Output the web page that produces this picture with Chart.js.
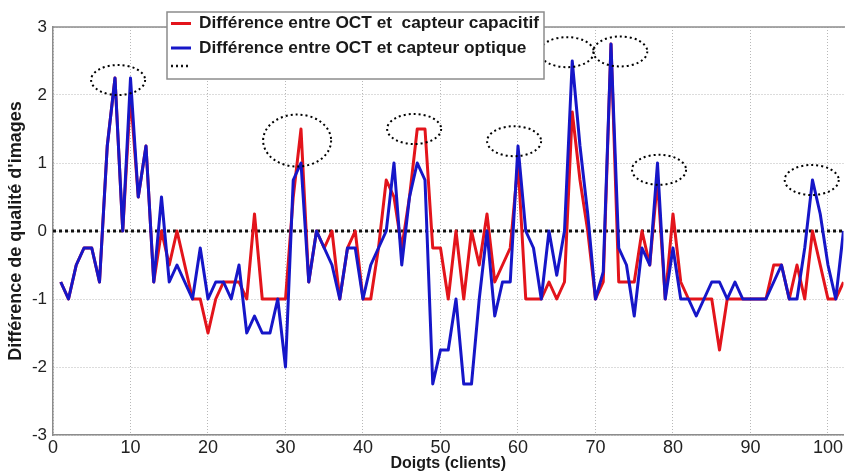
<!DOCTYPE html>
<html>
<head>
<meta charset="utf-8">
<script src="https://cdn.jsdelivr.net/npm/chart.js@4.4.0/dist/chart.umd.min.js"></script>
<style>
  html, body { margin: 0; padding: 0; background: #fff; }
  #wrap { width: 845px; height: 474px; }
</style>
</head>
<body>
<div id="wrap"><canvas id="diffChart"></canvas></div>
<script>
// --- DATA ---
const fingers = [];
for (let i = 1; i <= 102; i++) fingers.push(i);

const diffCapacitive = [
  -0.75, -1, -0.5, -0.25, -0.25, -0.75, 1.25, 2.25, 0, 2,
  0.5, 1.25, -0.75, 0, -0.5, 0, -0.5, -1, -1, -1.5,
  -1, -0.75, -0.75, -0.75, -1, 0.25, -1, -1, -1, -1,
  0.5, 1.5, -0.75, 0, -0.25, 0, -1, -0.25, 0, -1,
  -1, -0.25, 0.75, 0.5, -0.25, 0.5, 1.5, 1.5, -0.25, -0.25,
  -1, 0, -1, 0, -0.5, 0.25, -0.75, -0.5, -0.25, 1,
  -1, -1, -1, -0.75, -1, -0.75, 1.75, 0.75, 0, -1,
  -0.75, 2.75, -0.75, -0.75, -0.75, 0, -0.5, 0.75, -1, 0.25,
  -0.75, -1, -1, -1, -1, -1.75, -1, -1, -1, -1,
  -1, -1, -0.5, -0.5, -1, -0.5, -1, 0, -0.5, -1,
  -1, -0.75
];

const diffOptical = [
  -0.75, -1, -0.5, -0.25, -0.25, -0.75, 1.25, 2.25, 0, 2.25,
  0.5, 1.25, -0.75, 0.5, -0.75, -0.5, -0.75, -1, -0.25, -1,
  -0.75, -0.75, -1, -0.5, -1.5, -1.25, -1.5, -1.5, -1, -2,
  0.75, 1, -0.75, 0, -0.25, -0.5, -1, -0.25, -0.25, -1,
  -0.5, -0.25, 0, 1, -0.5, 0.5, 1, 0.75, -2.25, -1.75,
  -1.75, -1, -2.25, -2.25, -1, 0, -1.25, -0.75, -0.75, 1.25,
  0, -0.25, -1, 0, -0.65, 0, 2.5, 1.25, 0.25, -1,
  -0.6, 2.75, -0.25, -0.5, -1.25, -0.25, -0.5, 1, -1, -0.25,
  -1, -1, -1.25, -1, -0.75, -0.75, -1, -0.75, -1, -1,
  -1, -1, -0.75, -0.5, -1, -1, -0.25, 0.75, 0.25, -0.5,
  -1, 0
];

const zeroLineX = [0, 102];
const zeroLineY = [0, 0];

const xTicks = [0, 10, 20, 30, 40, 50, 60, 70, 80, 90, 100];
const yTicks = [-3, -2, -1, 0, 1, 2, 3];

// circled peaks (centre of each dotted ellipse, in data units)
const peakX = [8.4, 31.5, 46.6, 59.5, 66.3, 73.2, 78.2, 97.9];
const peakY = [2.22, 1.33, 1.5, 1.32, 2.63, 2.64, 0.9, 0.75];

const labels = [
  'Différence entre OCT et  capteur capacitif',
  'Différence entre OCT et capteur optique',
  '....'
];

const RED = '#e3141b';
const BLUE = '#1616c8';
const FONT = '"Liberation Sans", Arial, sans-serif';

function toPoints(xs, ys) {
  return xs.map((x, i) => ({ x: x, y: ys[i] }));
}

// --- ANNOTATION PLUGINS ---
const framePlugin = {
  id: 'frame',
  beforeDatasetsDraw(chart) {
    const { ctx, chartArea: a } = chart;
    ctx.save();
    ctx.strokeStyle = '#8c8c8c';
    ctx.lineWidth = 1.5;
    ctx.beginPath();
    ctx.moveTo(a.left, a.top);
    ctx.lineTo(a.right + 2, a.top);
    ctx.stroke();
    ctx.restore();
  }
};

const peakPlugin = {
  id: 'peaks',
  afterDatasetsDraw(chart) {
    const { ctx } = chart;
    const xs = chart.scales.x, ys = chart.scales.y;
    ctx.save();
    ctx.strokeStyle = '#000';
    ctx.lineWidth = 2;
    ctx.setLineDash([2, 3]);
    peakX.forEach((px, i) => {
      const big = i === 1; // second ellipse is drawn larger
      ctx.beginPath();
      ctx.ellipse(xs.getPixelForValue(px), ys.getPixelForValue(peakY[i]),
        big ? 34 : 27, big ? 26 : 15, 0, 0, Math.PI * 2);
      ctx.stroke();
    });
    ctx.restore();
  }
};

const legendPlugin = {
  id: 'boxLegend',
  afterDraw(chart) {
    const { ctx } = chart;
    const ds = chart.data.datasets;
    const box = { x: 167, y: 12, w: 377, h: 67 };
    ctx.save();
    ctx.fillStyle = '#fff';
    ctx.fillRect(box.x, box.y, box.w, box.h);
    ctx.strokeStyle = '#8c8c8c';
    ctx.lineWidth = 1.5;
    ctx.strokeRect(box.x, box.y, box.w, box.h);
    const rows = [23.5, 48, 66];
    const order = [1, 0, 2]; // red, blue, dotted
    order.forEach((di, r) => {
      const d = ds[di];
      const y = rows[r];
      ctx.strokeStyle = d.borderColor;
      ctx.lineWidth = di === 2 ? 2.5 : 3;
      ctx.setLineDash(di === 2 ? [2, 3] : []);
      ctx.beginPath();
      ctx.moveTo(171, y);
      ctx.lineTo(191, y);
      ctx.stroke();
      if (di !== 2) {
        ctx.setLineDash([]);
        ctx.fillStyle = '#1a1a1a';
        ctx.font = 'bold 17.3px ' + FONT;
        ctx.textBaseline = 'middle';
        ctx.fillText(d.label, 199, y);
      }
    });
    ctx.restore();
  }
};

// --- CHART ---
new Chart(document.getElementById('diffChart'), {
  type: 'line',
  data: {
    datasets: [
      {
        label: labels[1],
        data: toPoints(fingers, diffOptical),
        borderColor: BLUE,
        borderWidth: 3,
        borderJoinStyle: 'round',
        pointRadius: 0,
        tension: 0,
        order: 0
      },
      {
        label: labels[0],
        data: toPoints(fingers, diffCapacitive),
        borderColor: RED,
        borderWidth: 3,
        borderJoinStyle: 'round',
        pointRadius: 0,
        tension: 0,
        order: 1
      },
      {
        label: labels[2],
        data: toPoints(zeroLineX, zeroLineY),
        borderColor: '#111',
        borderWidth: 3,
        borderDash: [3, 3],
        pointRadius: 0,
        order: 2
      }
    ]
  },
  options: {
    responsive: true,
    maintainAspectRatio: false,
    animation: false,
    layout: { padding: { top: 27, right: 0, left: 0, bottom: 0 } },
    plugins: {
      legend: { display: false },
      tooltip: { enabled: false }
    },
    scales: {
      x: {
        type: 'linear',
        min: 0,
        max: 102,
        afterBuildTicks: s => { s.ticks = xTicks.map(v => ({ value: v })); },
        afterFit: s => { s.height = 39; },
        grid: { color: '#b8b8b8', drawTicks: false },
        border: { color: '#8c8c8c', width: 1.5, dash: [1, 2] },
        ticks: {
          color: '#222',
          padding: 2,
          maxRotation: 0,
          font: { family: '"Liberation Sans Narrow", ' + FONT, size: 18 }
        },
        title: {
          display: true,
          text: 'Doigts (clients)',
          color: '#1a1a1a',
          padding: { top: 0, bottom: 1 },
          font: { family: FONT, size: 16, weight: 'bold' }
        }
      },
      y: {
        min: -3,
        max: 3,
        afterBuildTicks: s => { s.ticks = yTicks.map(v => ({ value: v })); },
        afterFit: s => { s.width = 53; },
        grid: { color: '#b8b8b8', drawTicks: false },
        border: { color: '#8c8c8c', width: 1.5, dash: [1, 2] },
        ticks: {
          color: '#222',
          padding: 6,
          font: { family: FONT, size: 17 }
        },
        title: {
          display: true,
          text: 'Différence de qualité d\'images',
          color: '#1a1a1a',
          padding: { top: 5, bottom: 0 },
          font: { family: FONT, size: 18, weight: 'bold' }
        }
      }
    }
  },
  plugins: [framePlugin, peakPlugin, legendPlugin]
});
</script>
</body>
</html>
